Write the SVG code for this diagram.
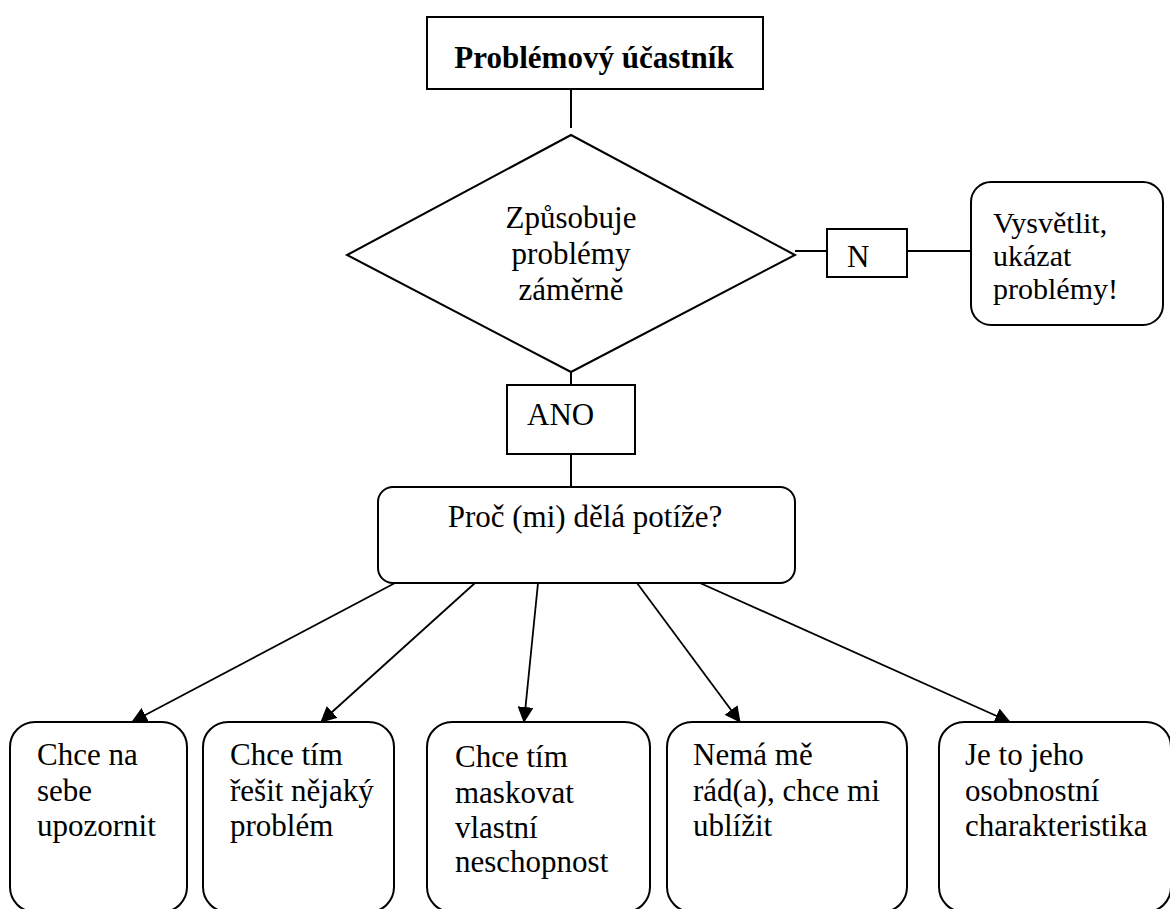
<svg xmlns="http://www.w3.org/2000/svg" width="1170" height="909" viewBox="0 0 1170 909">
<defs>
<style>
.box{fill:#fff;stroke:#000;stroke-width:2}
.t{font-family:"Liberation Serif","Times New Roman",serif;font-size:31px;fill:#000}
.s{font-size:30px}
.b{font-weight:bold}
.c{stroke:#000;stroke-width:2;fill:none}
.a{stroke:#000;stroke-width:1.8;fill:none;marker-end:url(#arr)}
</style>
<marker id="arr" viewBox="0 0 16 16" refX="15" refY="8" markerWidth="16" markerHeight="16" markerUnits="userSpaceOnUse" orient="auto">
<path d="M0,0 L16,8 L0,16 z" fill="#000"/>
</marker>
</defs>
<rect width="1170" height="909" fill="#fff"/>
<g id="connectors">
<line class="c" x1="571" y1="80" x2="571" y2="128"/>
<line class="c" x1="571" y1="368" x2="571" y2="385"/>
<line class="c" x1="571" y1="454" x2="571" y2="489"/>
<line class="c" x1="795" y1="251" x2="827" y2="251"/>
<line class="c" x1="907" y1="251" x2="971" y2="251"/>
<line class="a" x1="395" y1="583" x2="132" y2="722"/>
<line class="a" x1="475" y1="583" x2="321" y2="722"/>
<line class="a" x1="538" y1="583" x2="524" y2="722"/>
<line class="a" x1="637" y1="583" x2="740" y2="722"/>
<line class="a" x1="700" y1="583" x2="1010" y2="722"/>
</g>
<g id="n-top">
<rect class="box" x="427" y="17" width="336" height="72"/>
<text class="t b" x="594" y="68" text-anchor="middle">Problémový účastník</text>
</g>
<g id="n-decision">
<polygon class="box" points="571,135 795,255 571,372 347,255"/>
<text class="t" x="571" y="228" text-anchor="middle">Způsobuje</text>
<text class="t" x="571" y="264" text-anchor="middle">problémy</text>
<text class="t" x="571" y="300" text-anchor="middle">záměrně</text>
</g>
<g id="n-N">
<rect class="box" x="827" y="229" width="80" height="48"/>
<text class="t" x="847" y="267">N</text>
</g>
<g id="n-explain">
<rect class="box" x="971" y="182" width="192" height="143" rx="20" ry="20"/>
<text class="t s" x="993" y="233">Vysvětlit,</text>
<text class="t s" x="993" y="266">ukázat</text>
<text class="t s" x="993" y="299">problémy!</text>
</g>
<g id="n-ANO">
<rect class="box" x="507" y="385" width="128" height="69"/>
<text class="t" x="527" y="425">ANO</text>
</g>
<g id="n-why">
<rect class="box" x="378" y="487" width="417" height="96" rx="15" ry="15"/>
<text class="t" x="585" y="527" text-anchor="middle">Proč (mi) dělá potíže?</text>
</g>
<g id="n-r1">
<rect class="box" x="10" y="722" width="177" height="190" rx="25" ry="25"/>
<text class="t" x="37" y="765">Chce na</text>
<text class="t" x="37" y="801">sebe</text>
<text class="t" x="37" y="836">upozornit</text>
</g>
<g id="n-r2">
<rect class="box" x="203" y="722" width="191" height="190" rx="25" ry="25"/>
<text class="t" x="230" y="765">Chce tím</text>
<text class="t" x="230" y="801">řešit nějaký</text>
<text class="t" x="230" y="836">problém</text>
</g>
<g id="n-r3">
<rect class="box" x="427" y="722" width="223" height="190" rx="25" ry="25"/>
<text class="t" x="455" y="767">Chce tím</text>
<text class="t" x="455" y="803">maskovat</text>
<text class="t" x="455" y="838">vlastní</text>
<text class="t" x="455" y="872">neschopnost</text>
</g>
<g id="n-r4">
<rect class="box" x="667" y="722" width="240" height="190" rx="25" ry="25"/>
<text class="t" x="693" y="765">Nemá mě</text>
<text class="t" x="693" y="801">rád(a), chce mi</text>
<text class="t" x="693" y="836">ublížit</text>
</g>
<g id="n-r5">
<rect class="box" x="939" y="722" width="232" height="190" rx="25" ry="25"/>
<text class="t" x="965" y="765">Je to jeho</text>
<text class="t" x="965" y="801">osobnostní</text>
<text class="t" x="965" y="836">charakteristika</text>
</g>
</svg>
